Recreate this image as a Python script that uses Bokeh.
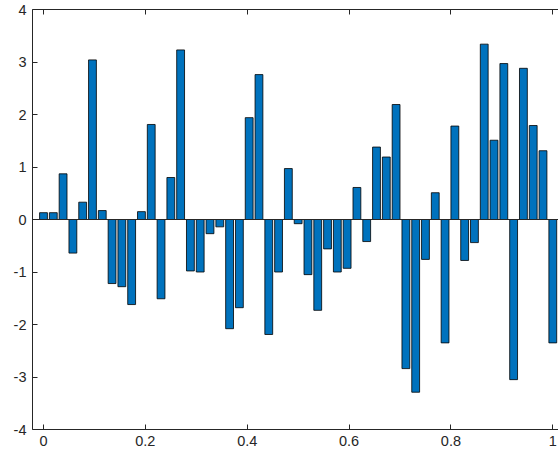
import numpy as np
from bokeh.plotting import figure
from bokeh.models import Range1d, LinearAxis, FixedTicker, Span
from bokeh.embed import file_html
from bokeh.resources import INLINE

# data
values = [0.13, 0.13, 0.87, -0.64, 0.33, 3.04, 0.17, -1.22, -1.28, -1.62,
          0.15, 1.81, -1.51, 0.80, 3.23, -0.98, -1.00, -0.27, -0.14, -2.08,
          -1.68, 1.94, 2.76, -2.19, -1.00, 0.97, -0.08, -1.05, -1.73, -0.56,
          -1.00, -0.93, 0.61, -0.42, 1.38, 1.19, 2.19, -2.84, -3.29, -0.76,
          0.51, -2.35, 1.78, -0.78, -0.44, 3.34, 1.51, 2.97, -3.05, 2.88,
          1.79, 1.31, -2.35]
xs = list(np.linspace(0, 1, len(values)))
x_ticks = [0, 0.2, 0.4, 0.6, 0.8, 1.0]
x_tick_labels = ["0", "0.2", "0.4", "0.6", "0.8", "1"]
y_ticks = [-4, -3, -2, -1, 0, 1, 2, 3, 4]
y_tick_labels = ["-4", "-3", "-2", "-1", "0", "1", "2", "3", "4"]

FONT = "Liberation Sans"
AX = "#262626"
TXT = "#262626"

p = figure(width=558, height=459, output_backend="svg", toolbar_location=None,
           x_range=Range1d(-0.0216, 1.0112), y_range=Range1d(-4, 4),
           x_axis_type=None, y_axis_type=None,
           min_border_left=32, min_border_right=0, min_border_top=9, min_border_bottom=30)
p.outline_line_color = None
p.xgrid.visible = False
p.ygrid.visible = False

bw = 0.8 * (xs[1] - xs[0])
p.vbar(x=xs, top=values, bottom=0, width=bw, fill_color="#0072BD",
       line_color="#000000", line_width=0.8)

p.add_layout(Span(location=0, dimension="width", line_color=AX, line_width=1))

def style(ax, ticks, labels):
    ax.ticker = FixedTicker(ticks=ticks)
    ax.major_label_overrides = {t: l for t, l in zip(ticks, labels)}
    ax.minor_tick_line_color = None
    ax.major_tick_in = 5
    ax.major_tick_out = 0
    ax.axis_line_color = AX
    ax.major_tick_line_color = AX
    ax.major_label_text_font = FONT
    ax.major_label_text_color = TXT
    ax.major_label_text_font_size = "14.5px"
    ax.major_label_standoff = 6

xb = LinearAxis()
style(xb, x_ticks, x_tick_labels)
p.add_layout(xb, "below")

yl = LinearAxis()
style(yl, y_ticks, y_tick_labels)
p.add_layout(yl, "left")

# top box edge with inward ticks, no labels
xa = LinearAxis()
style(xa, x_ticks, [""] * len(x_ticks))
xa.major_label_standoff = 0
p.add_layout(xa, "above")

open("out.html", "w").write(file_html(p, INLINE))
